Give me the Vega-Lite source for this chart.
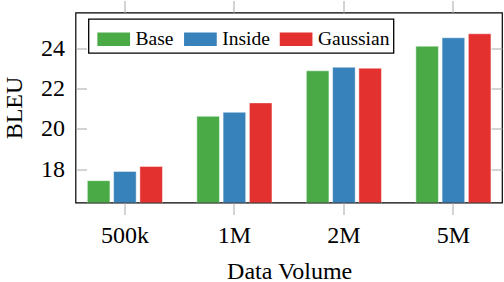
{
  "$schema": "https://vega.github.io/schema/vega-lite/v6.json",
  "autosize": {"type": "none"},
  "padding": {"left": 75.5, "top": 12.5, "right": 2, "bottom": 79.5},
  "width": 426.5,
  "height": 190,
  "data": {
    "values": [
      {"volume": "500k", "method": "Base", "bleu": 17.42},
      {"volume": "500k", "method": "Inside", "bleu": 17.88},
      {"volume": "500k", "method": "Gaussian", "bleu": 18.13},
      {"volume": "1M", "method": "Base", "bleu": 20.63},
      {"volume": "1M", "method": "Inside", "bleu": 20.83},
      {"volume": "1M", "method": "Gaussian", "bleu": 21.3},
      {"volume": "2M", "method": "Base", "bleu": 22.9},
      {"volume": "2M", "method": "Inside", "bleu": 23.08},
      {"volume": "2M", "method": "Gaussian", "bleu": 23.03},
      {"volume": "5M", "method": "Base", "bleu": 24.13},
      {"volume": "5M", "method": "Inside", "bleu": 24.55},
      {"volume": "5M", "method": "Gaussian", "bleu": 24.75}
    ]
  },
  "config": {
    "font": "'Liberation Serif', 'Times New Roman', Times, serif",
    "view": {"stroke": "black", "strokeWidth": 1.2},
    "axis": {
      "labelFont": "'Liberation Serif', 'Times New Roman', Times, serif",
      "titleFont": "'Liberation Serif', 'Times New Roman', Times, serif",
      "labelColor": "black",
      "titleColor": "black",
      "labelFontSize": 24,
      "titleFontSize": 24,
      "titleFontWeight": "normal",
      "tickColor": "#a8a8a8",
      "tickWidth": 1,
      "domain": false,
      "grid": false
    },
    "legend": {
      "strokeWidth": 1.3,
      "labelFont": "'Liberation Serif', 'Times New Roman', Times, serif"
    }
  },
  "layer": [
    {
      "mark": {"type": "bar", "clip": true, "stroke": "white", "strokeWidth": 1, "strokeOpacity": 0.45},
      "encoding": {
        "x": {
          "field": "volume",
          "type": "nominal",
          "sort": ["500k", "1M", "2M", "5M"],
          "scale": {"range": [-5.35, 432.65], "paddingInner": 0.314, "paddingOuter": 0.157},
          "axis": {
            "orient": "bottom",
            "labelAngle": 0,
            "tickSize": 12,
            "labelPadding": 9,
            "title": "Data Volume",
            "titlePadding": 12
          }
        },
        "xOffset": {
          "field": "method",
          "type": "nominal",
          "sort": ["Base", "Inside", "Gaussian"],
          "scale": {"paddingInner": 0.14, "paddingOuter": 0}
        },
        "y": {
          "field": "bleu",
          "type": "quantitative",
          "scale": {"domain": [16.33, 25.81], "zero": false, "nice": false},
          "axis": {
            "orient": "left",
            "values": [18, 20, 22, 24],
            "tickSize": -11,
            "labelPadding": 22,
            "title": "BLEU",
            "titlePadding": 14
          }
        },
        "color": {
          "field": "method",
          "type": "nominal",
          "sort": ["Base", "Inside", "Gaussian"],
          "scale": {"range": ["#4aab46", "#3782bb", "#e3312f"]},
          "legend": {
            "title": null,
            "orient": "none",
            "legendX": 13,
            "legendY": 6.5,
            "direction": "horizontal",
            "columns": 3,
            "fillColor": "white",
            "strokeColor": "black",
            "padding": 3.8,
            "symbolType": "M-1,-0.416H1V0.416H-1Z",
            "symbolSize": 1069,
            "symbolStrokeWidth": 0,
            "symbolOpacity": 1,
            "symbolOffset": 4.9,
            "labelFontSize": 19.5,
            "labelColor": "black",
            "labelOffset": 5.3,
            "columnPadding": 4.7
          }
        }
      }
    },
    {
      "mark": {"type": "point", "opacity": 0},
      "encoding": {
        "x": {
          "field": "volume",
          "type": "nominal",
          "sort": ["500k", "1M", "2M", "5M"],
          "axis": {"orient": "top", "labels": false, "tickSize": 12, "title": null}
        },
        "y": {
          "field": "bleu",
          "type": "quantitative",
          "axis": {"orient": "right", "labels": false, "values": [18, 20, 22, 24], "tickSize": -11, "title": null}
        }
      }
    }
  ],
  "resolve": {"axis": {"x": "independent", "y": "independent"}}
}
